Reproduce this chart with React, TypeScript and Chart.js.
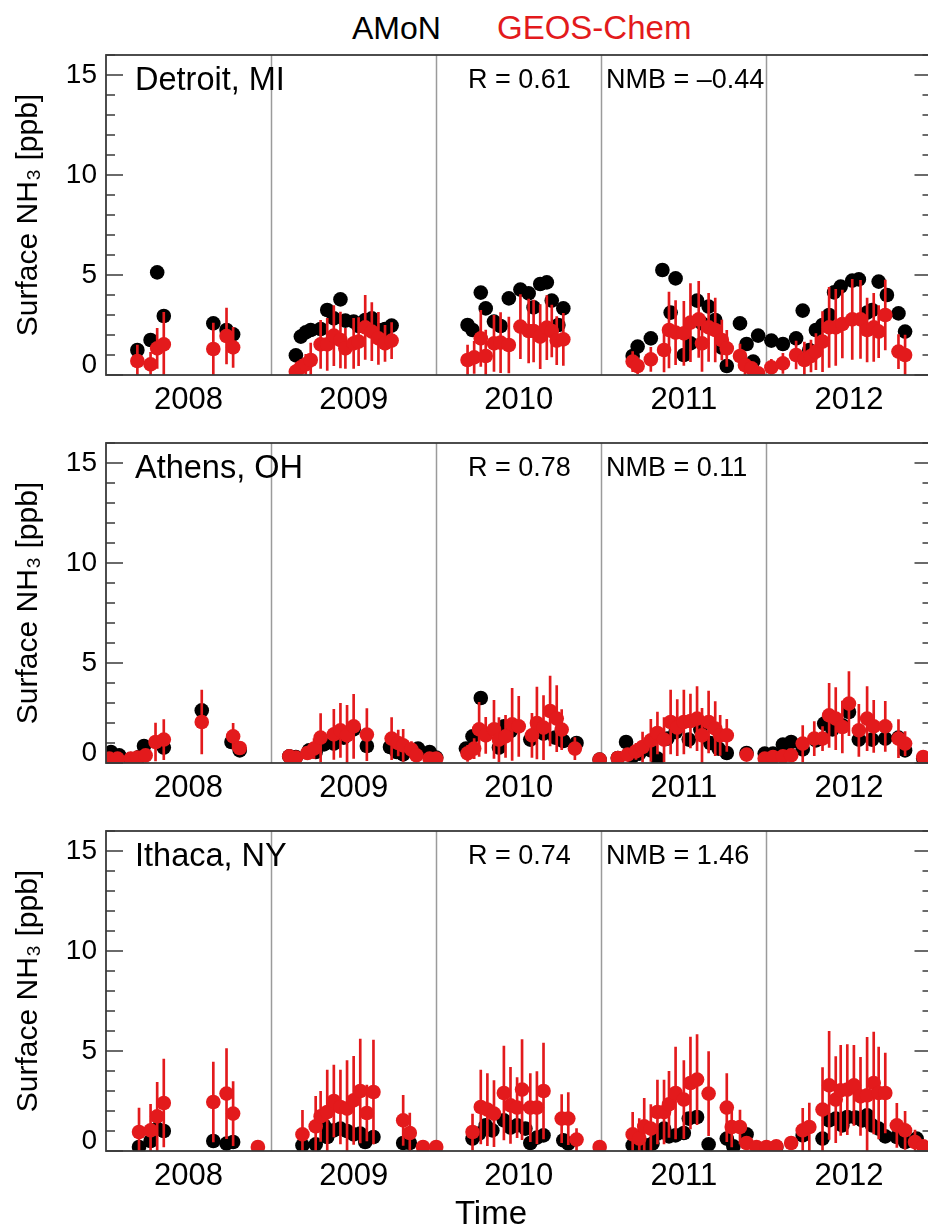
import React, { useEffect, useRef } from 'react';
import { Chart, registerables } from 'chart.js';

Chart.register(...registerables);

const FONT = '"Liberation Sans", Arial, Helvetica, "DejaVu Sans", sans-serif';
const RED = '#e31a1c';

const siteNames = ['Detroit, MI', 'Athens, OH', 'Ithaca, NY'];
const rValues = ['0.61', '0.78', '0.74'];
const nmbValues = ['\u20130.44', '0.11', '1.46'];
const yearBoundaries = [2009, 2010, 2011, 2012];
const yearLabelPositions = [2008.5, 2009.5, 2010.5, 2011.5, 2012.5];
const yearLabels = ['2008', '2009', '2010', '2011', '2012'];
const yLabelValues = [0, 5, 10, 15];

// ---------- Detroit, MI ----------
const detroitAmonDates = [
  2008.19, 2008.27, 2008.31, 2008.35, 2008.65, 2008.73, 2008.77,
  2009.15, 2009.18, 2009.21, 2009.24, 2009.30, 2009.34, 2009.38, 2009.42, 2009.45, 2009.50, 2009.53, 2009.57, 2009.61, 2009.65, 2009.69, 2009.73,
  2010.19, 2010.22, 2010.27, 2010.30, 2010.35, 2010.39, 2010.44, 2010.51, 2010.56, 2010.59, 2010.63, 2010.67, 2010.70, 2010.74, 2010.77,
  2011.19, 2011.22, 2011.30, 2011.37, 2011.42, 2011.45, 2011.50, 2011.54, 2011.58, 2011.61, 2011.65, 2011.69, 2011.73, 2011.76, 2011.84, 2011.88, 2011.92, 2011.95,
  2012.03, 2012.10, 2012.18, 2012.22, 2012.26, 2012.30, 2012.34, 2012.38, 2012.41, 2012.45, 2012.52, 2012.56, 2012.61, 2012.64, 2012.68, 2012.73, 2012.80, 2012.84,
];
const detroitAmon = [
  1.25, 1.75, 5.13, 2.95, 2.58, 2.25, 2.03,
  0.98, 1.92, 2.13, 2.25, 2.30, 3.25, 2.83, 3.78, 2.72, 2.67, 2.45, 2.75, 2.83, 2.25, 2.30, 2.47,
  2.50, 2.25, 4.12, 3.33, 2.67, 2.45, 3.83, 4.27, 4.08, 3.38, 4.55, 4.63, 3.72, 2.50, 3.33,
  0.95, 1.42, 1.83, 5.25, 3.12, 4.83, 1.00, 1.58, 3.72, 2.58, 3.42, 2.75, 1.37, 0.45, 2.58, 1.55, 0.67, 1.97,
  1.72, 1.55, 1.83, 3.22, 1.25, 2.25, 2.50, 3.00, 4.13, 4.42, 4.72, 4.78, 3.12, 3.25, 4.67, 4.00, 3.08, 2.17,
];
const detroitGcDates = [
  2008.19, 2008.27, 2008.31, 2008.35, 2008.65, 2008.73, 2008.77,
  2009.15, 2009.18, 2009.21, 2009.24, 2009.30, 2009.34, 2009.38, 2009.42, 2009.45, 2009.50, 2009.53, 2009.57, 2009.61, 2009.65, 2009.69, 2009.73,
  2010.19, 2010.23, 2010.27, 2010.30, 2010.35, 2010.39, 2010.44, 2010.51, 2010.56, 2010.59, 2010.63, 2010.67, 2010.70, 2010.73, 2010.77,
  2011.19, 2011.22, 2011.30, 2011.38, 2011.41, 2011.45, 2011.50, 2011.54, 2011.59, 2011.61, 2011.65, 2011.69, 2011.73, 2011.76, 2011.84, 2011.87, 2011.91, 2011.95,
  2012.03, 2012.10, 2012.18, 2012.23, 2012.27, 2012.30, 2012.34, 2012.38, 2012.42, 2012.46, 2012.52, 2012.57, 2012.61, 2012.65, 2012.68, 2012.72, 2012.80, 2012.84,
];
const detroitGc = [
  0.70, 0.53, 1.33, 1.53, 1.30, 1.95, 1.38,
  0.17, 0.38, 0.53, 0.75, 1.53, 1.53, 1.97, 1.75, 1.33, 1.58, 1.67, 2.38, 2.17, 1.83, 1.58, 1.72,
  0.75, 0.88, 1.83, 0.95, 1.58, 1.62, 1.50, 2.42, 2.20, 2.20, 1.92, 2.37, 2.20, 1.72, 1.78,
  0.67, 0.45, 0.78, 1.25, 2.25, 2.12, 2.08, 2.62, 2.78, 1.58, 2.38, 2.25, 1.75, 1.33, 0.95, 0.50, 0.33, 0.08,
  0.38, 0.58, 1.00, 0.75, 0.95, 1.17, 1.67, 2.38, 2.38, 2.55, 2.78, 2.78, 2.25, 2.38, 2.17, 3.00, 1.17, 1.00,
];
const detroitGcErr = [
  0.8, 0.6, 1.0, 1.6, 1.3, 1.4, 1.0,
  0.3, 0.4, 0.5, 0.85, 1.2, 1.3, 1.5, 1.4, 1.0, 1.25, 1.2, 1.6, 1.45, 1.3, 0.9, 0.9,
  0.75, 0.8, 1.4, 1.3, 1.4, 1.5, 1.4, 1.6, 1.6, 1.55, 1.6, 1.6, 1.3, 1.2, 1.3,
  0.5, 0.4, 0.6, 1.1, 1.9, 1.6, 1.6, 1.95, 1.9, 1.4, 1.7, 1.6, 1.0, 0.9, 0.6, 0.5, 0.3, 0.2,
  0.4, 0.5, 0.7, 0.9, 0.8, 0.9, 1.5, 2.0, 1.9, 1.7, 2.0, 1.95, 1.6, 1.7, 1.3, 1.75, 0.85, 1.0,
];

// ---------- Athens, OH ----------
const athensAmonDates = [
  2008.03, 2008.08, 2008.15, 2008.20, 2008.23, 2008.35, 2008.58, 2008.76, 2008.81,
  2009.11, 2009.15, 2009.23, 2009.27, 2009.32, 2009.38, 2009.44, 2009.50, 2009.58, 2009.72, 2009.76, 2009.80, 2009.89, 2009.96, 2010.00,
  2010.18, 2010.22, 2010.27, 2010.38, 2010.41, 2010.45, 2010.57, 2010.65, 2010.72, 2010.77, 2010.85,
  2010.99, 2011.10, 2011.15, 2011.19, 2011.23, 2011.30, 2011.34, 2011.40, 2011.45, 2011.53, 2011.60, 2011.66, 2011.71, 2011.76, 2011.88,
  2011.99, 2012.04, 2012.10, 2012.15, 2012.22, 2012.30, 2012.35, 2012.40, 2012.46, 2012.50, 2012.56, 2012.64, 2012.72, 2012.80, 2012.84, 2012.95,
];
const athensAmon = [
  0.55, 0.38, 0.20, 0.30, 0.85, 0.77, 2.63, 1.05, 0.63,
  0.33, 0.30, 0.63, 0.55, 0.93, 0.97, 1.27, 1.68, 0.85, 0.80, 0.55, 0.43, 0.72, 0.55, 0.27,
  0.72, 1.33, 3.25, 0.77, 1.83, 1.60, 1.17, 1.47, 1.27, 1.10, 1.00,
  0.17, 0.25, 1.05, 0.33, 0.47, 0.63, 0.22, 1.22, 1.55, 1.17, 1.67, 1.00, 0.72, 0.50, 0.50,
  0.47, 0.47, 0.92, 1.05, 0.68, 1.13, 1.97, 1.68, 1.88, 2.55, 1.17, 1.17, 1.22, 1.27, 0.63, 0.22,
];
const athensGcDates = [
  2008.02, 2008.07, 2008.15, 2008.19, 2008.24, 2008.30, 2008.35, 2008.58, 2008.77, 2008.81,
  2009.11, 2009.15, 2009.22, 2009.26, 2009.30, 2009.38, 2009.42, 2009.46, 2009.50, 2009.58, 2009.73, 2009.77, 2009.80, 2009.85, 2009.88, 2009.96, 2010.00,
  2010.19, 2010.23, 2010.26, 2010.30, 2010.35, 2010.38, 2010.42, 2010.46, 2010.50, 2010.58, 2010.61, 2010.65, 2010.69, 2010.73, 2010.76, 2010.84,
  2010.99, 2011.10, 2011.16, 2011.21, 2011.25, 2011.30, 2011.34, 2011.38, 2011.42, 2011.46, 2011.50, 2011.54, 2011.58, 2011.61, 2011.65, 2011.69, 2011.72, 2011.76, 2011.88,
  2011.99, 2012.04, 2012.10, 2012.15, 2012.22, 2012.29, 2012.34, 2012.38, 2012.42, 2012.46, 2012.50, 2012.56, 2012.61, 2012.65, 2012.72, 2012.80, 2012.84, 2012.95,
];
const athensGc = [
  0.22, 0.22, 0.22, 0.27, 0.38, 1.05, 1.17, 2.05, 1.33, 0.75,
  0.33, 0.27, 0.50, 0.72, 1.27, 1.43, 1.63, 1.38, 1.83, 1.42, 1.22, 1.00, 0.88, 0.67, 0.38, 0.22, 0.22,
  0.48, 0.72, 1.68, 1.38, 1.68, 1.17, 1.33, 1.93, 1.83, 1.38, 2.00, 1.77, 2.60, 2.22, 1.67, 0.72,
  0.17, 0.25, 0.42, 0.58, 0.80, 1.13, 1.50, 1.17, 2.05, 1.77, 2.05, 2.10, 2.22, 1.38, 2.05, 1.72, 1.38, 1.38, 0.42,
  0.22, 0.30, 0.33, 0.38, 0.97, 1.22, 1.22, 2.38, 2.22, 1.80, 2.97, 1.63, 2.22, 1.83, 1.83, 1.22, 0.97, 0.30,
];
const athensGcErr = [
  0.2, 0.2, 0.2, 0.25, 0.3, 0.95, 1.0, 1.6, 0.65, 0.3,
  0.2, 0.2, 0.3, 0.5, 1.2, 1.25, 1.35, 1.5, 1.6, 1.3, 1.05, 0.65, 0.8, 0.4, 0.3, 0.2, 0.2,
  0.4, 0.5, 1.35, 0.9, 1.45, 1.1, 1.05, 1.8, 1.5, 1.1, 1.8, 1.6, 1.75, 1.65, 1.0, 0.55,
  0.2, 0.2, 0.3, 0.4, 0.75, 1.05, 1.05, 1.1, 1.6, 1.4, 1.6, 1.35, 1.6, 1.35, 1.55, 1.35, 1.0, 0.8, 0.3,
  0.2, 0.2, 0.25, 0.3, 0.9, 0.85, 0.6, 1.6, 1.55, 1.3, 1.6, 1.3, 1.6, 1.3, 1.25, 0.95, 0.6, 0.2,
];

// ---------- Ithaca, NY ----------
const ithacaAmonDates = [
  2008.20, 2008.27, 2008.31, 2008.35, 2008.65, 2008.73, 2008.77,
  2009.19, 2009.27, 2009.32, 2009.34, 2009.38, 2009.42, 2009.46, 2009.50, 2009.54, 2009.57, 2009.62, 2009.80, 2009.84,
  2010.22, 2010.26, 2010.30, 2010.34, 2010.41, 2010.45, 2010.49, 2010.54, 2010.57, 2010.61, 2010.65, 2010.77, 2010.80,
  2011.19, 2011.23, 2011.27, 2011.31, 2011.34, 2011.38, 2011.41, 2011.45, 2011.50, 2011.53, 2011.58, 2011.65, 2011.76, 2011.80, 2011.88,
  2012.06, 2012.22, 2012.34, 2012.38, 2012.42, 2012.46, 2012.49, 2012.54, 2012.58, 2012.61, 2012.64, 2012.68, 2012.72, 2012.79, 2012.84, 2012.91,
];
const ithacaAmon = [
  0.20, 0.50, 1.12, 1.00, 0.50, 0.37, 0.45,
  0.28, 0.33, 1.28, 0.70, 1.03, 1.12, 1.00, 0.83, 0.87, 0.45, 0.70, 0.40, 0.40,
  0.62, 0.87, 1.28, 1.03, 1.53, 1.17, 1.28, 1.12, 0.40, 0.67, 0.78, 0.53, 0.37,
  0.28, 0.20, 0.28, 0.37, 0.87, 1.12, 0.73, 0.78, 0.90, 1.62, 1.70, 0.33, 0.62, 0.23, 0.83,
  0.20, 0.78, 0.62, 1.53, 1.62, 1.28, 1.70, 1.67, 1.53, 1.78, 1.28, 1.12, 0.73, 0.70, 0.45, 0.62,
];
const ithacaGcDates = [
  2008.20, 2008.27, 2008.31, 2008.35, 2008.65, 2008.73, 2008.77, 2008.92,
  2009.19, 2009.27, 2009.30, 2009.34, 2009.38, 2009.42, 2009.46, 2009.50, 2009.54, 2009.58, 2009.62, 2009.80, 2009.84, 2009.92, 2010.00,
  2010.22, 2010.27, 2010.31, 2010.35, 2010.41, 2010.45, 2010.49, 2010.52, 2010.57, 2010.61, 2010.65, 2010.76, 2010.80, 2010.85,
  2010.99, 2011.19, 2011.23, 2011.26, 2011.30, 2011.34, 2011.38, 2011.41, 2011.45, 2011.50, 2011.54, 2011.58, 2011.65, 2011.76, 2011.79, 2011.84, 2011.88, 2011.94, 2012.00,
  2012.06, 2012.15, 2012.22, 2012.26, 2012.34, 2012.38, 2012.42, 2012.45, 2012.49, 2012.53, 2012.57, 2012.61, 2012.65, 2012.68, 2012.72, 2012.79, 2012.84, 2012.90, 2012.95,
];
const ithacaGc = [
  0.95, 1.03, 1.73, 2.40, 2.45, 2.87, 1.87, 0.20,
  0.83, 1.23, 1.73, 1.95, 2.50, 2.20, 2.12, 2.53, 3.00, 1.90, 2.95, 1.53, 0.90, 0.20, 0.20,
  0.95, 2.20, 2.07, 1.87, 2.90, 2.28, 2.17, 3.07, 2.17, 2.17, 3.00, 1.62, 1.62, 0.57,
  0.20, 0.83, 0.62, 1.23, 1.12, 1.95, 1.95, 2.33, 2.90, 2.57, 3.40, 3.57, 2.87, 2.17, 1.20, 1.20, 0.40, 0.20, 0.20,
  0.23, 0.40, 1.03, 1.20, 2.07, 3.28, 2.57, 3.03, 3.07, 3.28, 2.73, 2.78, 3.40, 2.90, 2.90, 1.28, 1.03, 0.45, 0.23,
];
const ithacaGcErr = [
  1.2, 1.3, 1.7, 2.2, 2.0, 2.25, 1.6, 0.2,
  1.2, 1.5, 1.25, 2.1, 1.8, 1.85, 2.4, 2.2, 2.6, 1.4, 2.6, 1.25, 1.0, 0.2, 0.2,
  0.9, 1.85, 1.8, 1.65, 2.35, 1.9, 1.5, 2.5, 1.7, 1.8, 2.4, 1.2, 1.3, 0.55,
  0.2, 1.1, 1.0, 1.4, 1.2, 1.6, 1.6, 1.65, 2.3, 1.95, 2.3, 2.25, 2.1, 1.7, 1.0, 0.85, 0.3, 0.2, 0.2,
  0.2, 0.3, 1.1, 1.2, 2.1, 2.7, 2.15, 2.25, 2.25, 2.0, 1.95, 2.9, 2.55, 2.3, 2.0, 1.1, 0.95, 0.6, 0.2,
];

const panels = [
  { amonDates: detroitAmonDates, amon: detroitAmon, gcDates: detroitGcDates, gc: detroitGc, gcErr: detroitGcErr, top: 35 },
  { amonDates: athensAmonDates, amon: athensAmon, gcDates: athensGcDates, gc: athensGc, gcErr: athensGcErr, top: 423 },
  { amonDates: ithacaAmonDates, amon: ithacaAmon, gcDates: ithacaGcDates, gc: ithacaGc, gcErr: ithacaGcErr, top: 811 },
];

const CANVAS_W = 940;
const CANVAS_H = 390;
const DOT_R = 7.3;

function makeDecorPlugin(idx: number) {
  return {
    id: 'decor' + idx,
    beforeDatasetsDraw(chart: any) {
      const { ctx, chartArea: a } = chart;
      const x = chart.scales.x;
      ctx.save();
      ctx.strokeStyle = '#9b9b9b';
      ctx.lineWidth = 1.5;
      yearBoundaries.forEach((b) => {
        const px = Math.round(x.getPixelForValue(b)) + 0.5;
        ctx.beginPath();
        ctx.moveTo(px, a.top);
        ctx.lineTo(px, a.bottom);
        ctx.stroke();
      });
      ctx.restore();
    },
    afterDraw(chart: any) {
      const { ctx, chartArea: a } = chart;
      const y = chart.scales.y;
      ctx.save();
      // frame
      ctx.strokeStyle = '#3a3a3a';
      ctx.lineWidth = 1.8;
      ctx.strokeRect(a.left, a.top, a.right - a.left, a.bottom - a.top);
      // inward ticks on both vertical axes
      ctx.lineWidth = 1.5;
      y.ticks.forEach((t: any) => {
        const v = t.value;
        const py = y.getPixelForValue(v);
        const len = v % 5 === 0 ? 17 : 9;
        ctx.beginPath();
        ctx.moveTo(a.left, py);
        ctx.lineTo(a.left + len, py);
        ctx.moveTo(a.right, py);
        ctx.lineTo(a.right - len, py);
        ctx.stroke();
      });
      // y tick labels
      ctx.fillStyle = '#000';
      ctx.font = `28px ${FONT}`;
      ctx.textAlign = 'right';
      ctx.textBaseline = 'middle';
      yLabelValues.forEach((v) => {
        const py = Math.min(y.getPixelForValue(v), a.bottom - 10);
        ctx.fillText(String(v), a.left - 9, py);
      });
      // annotations
      ctx.textAlign = 'left';
      ctx.font = `32.5px ${FONT}`;
      ctx.fillText(siteNames[idx], a.left + 29, a.top + 26);
      ctx.font = `27px ${FONT}`;
      ctx.fillText('R = ' + rValues[idx], a.left + 362, a.top + 26);
      ctx.fillText('NMB = ' + nmbValues[idx], a.left + 500, a.top + 26);
      ctx.restore();
    },
  };
}

function Panel({ idx }: { idx: number }) {
  const ref = useRef<HTMLCanvasElement>(null);
  const p = panels[idx];
  useEffect(() => {
    const chart = new Chart(ref.current as HTMLCanvasElement, {
      type: 'scatter',
      data: {
        datasets: [
          {
            type: 'scatter',
            label: 'AMoN',
            data: p.amonDates.map((d, i) => ({ x: d, y: p.amon[i] })),
            backgroundColor: '#000',
            borderWidth: 0,
            pointRadius: DOT_R,
            order: 2,
          } as any,
          {
            type: 'bar',
            label: 'GEOS-Chem range',
            data: p.gcDates.map((d, i) => ({ x: d, y: [p.gc[i] - p.gcErr[i], p.gc[i] + p.gcErr[i]] })),
            backgroundColor: RED,
            borderWidth: 0,
            barThickness: 2,
            grouped: false,
            order: 1,
          } as any,
          {
            type: 'scatter',
            label: 'GEOS-Chem',
            data: p.gcDates.map((d, i) => ({ x: d, y: p.gc[i] })),
            backgroundColor: RED,
            borderWidth: 0,
            pointRadius: DOT_R,
            order: 0,
          } as any,
        ],
      },
      options: {
        responsive: false,
        animation: false,
        events: [],
        layout: { padding: { top: 20, right: 8.5, left: 0, bottom: 0 } },
        plugins: { legend: { display: false }, tooltip: { enabled: false } },
        scales: {
          x: {
            type: 'linear',
            min: 2008,
            max: 2013,
            offset: false,
            afterBuildTicks: (s: any) => {
              s.ticks = yearLabelPositions.map((value) => ({ value }));
            },
            afterFit: (s: any) => {
              s.height = 50;
            },
            grid: { display: false, drawTicks: false },
            border: { display: false },
            ticks: {
              padding: 7,
              color: '#000',
              autoSkip: false,
              maxRotation: 0,
              font: { family: FONT, size: 31 },
              callback: (_v: any, i: number) => yearLabels[i],
            },
          },
          y: {
            type: 'linear',
            min: 0,
            max: 16,
            afterFit: (s: any) => {
              s.width = 106;
            },
            grid: { display: false, drawTicks: false },
            border: { display: false },
            ticks: { stepSize: 1, display: false },
            title: {
              display: true,
              text: 'Surface NH\u2083 [ppb]',
              color: '#000',
              font: { family: FONT, size: 30 },
              padding: { top: 11, bottom: 0 },
            },
          },
        },
      } as any,
      plugins: [makeDecorPlugin(idx)],
    });
    return () => chart.destroy();
  }, []);
  return (
    <canvas
      ref={ref}
      width={CANVAS_W}
      height={CANVAS_H}
      style={{ position: 'absolute', left: 0, top: p.top, width: CANVAS_W, height: CANVAS_H }}
    />
  );
}

export default function App() {
  return (
    <div
      style={{
        position: 'absolute',
        left: 0,
        top: 0,
        width: 928,
        height: 1229,
        overflow: 'hidden',
        background: '#fff',
        fontFamily: FONT,
      }}
    >
      <div style={{ position: 'absolute', top: 12, left: 352, fontSize: 32, lineHeight: '32px', color: '#000', whiteSpace: 'nowrap' }}>
        AMoN
      </div>
      <div style={{ position: 'absolute', top: 12, left: 497, fontSize: 33, lineHeight: '32px', color: RED, whiteSpace: 'nowrap' }}>
        GEOS-Chem
      </div>
      {panels.map((_, i) => (
        <Panel key={i} idx={i} />
      ))}
      <div
        style={{
          position: 'absolute',
          top: 1196,
          left: 391,
          width: 200,
          textAlign: 'center',
          fontSize: 33,
          lineHeight: '33px',
          color: '#000',
        }}
      >
        Time
      </div>
    </div>
  );
}
